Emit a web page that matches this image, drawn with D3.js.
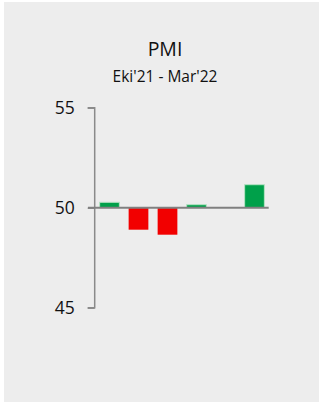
<!DOCTYPE html>
<html>
<head>
<meta charset="utf-8">
<script src="https://cdn.jsdelivr.net/npm/d3@7"></script>
<style>
  body { margin: 0; background: #ffffff; }
  svg { display: block; font-family: "Open Sans", sans-serif; }
</style>
</head>
<body>
<svg width="321" height="405"></svg>
<script>
// PMI, Oct'21 - Mar'22
var months = ["Eki", "Kas", "Ara", "Oca", "Şub", "Mar"];
var values = [50.27, 48.9, 48.65, 50.15, 50.0, 51.15];
var ticks = [45, 50, 55];

var svg = d3.select("svg");

// background panel
svg.append("rect")
  .attr("x", 4).attr("y", 2)
  .attr("width", 315).attr("height", 400)
  .attr("fill", "#ededed");

svg.append("text")
  .attr("x", 165).attr("y", 56)
  .attr("text-anchor", "middle")
  .attr("font-size", 19.5)
  .attr("fill", "#111")
  .text("PMI");

svg.append("text")
  .attr("x", 165).attr("y", 81.5)
  .attr("text-anchor", "middle")
  .attr("font-size", 15.5)
  .attr("fill", "#111")
  .text("Eki'21 - Mar'22");

var x = d3.scaleBand()
  .domain(months)
  .range([95, 269])
  .paddingInner(0.32)
  .paddingOuter(0.16);

var y = d3.scaleLinear()
  .domain([45, 55])
  .range([307.7, 107.7]);

// y axis
var yAxis = svg.append("g")
  .attr("transform", "translate(94.7,0)")
  .call(d3.axisLeft(y).tickValues(ticks).tickSize(7).tickPadding(13));

yAxis.select(".domain")
  .attr("stroke", "#8a8a8a")
  .attr("stroke-width", 1.5)
  .attr("d", "M-7," + y(45) + "H0V" + y(55) + "H-7");
yAxis.selectAll(".tick line").attr("stroke", "#8a8a8a").attr("stroke-width", 1.5);
yAxis.selectAll(".tick text")
  .attr("font-size", 17.5)
  .attr("font-family", "Open Sans, sans-serif")
  .attr("fill", "#111");

// bars
svg.append("g")
  .selectAll("rect")
  .data(values)
  .enter().append("rect")
    .attr("x", function(d, i) { return x(months[i]); })
    .attr("y", function(d) { return Math.min(y(d), y(50)); })
    .attr("width", x.bandwidth())
    .attr("height", function(d) { return Math.abs(y(d) - y(50)); })
    .attr("fill", function(d) { return d >= 50 ? "#00a04a" : "#f20000"; })
    .attr("stroke", function(d) { return d >= 50 ? "#b6e3c4" : "none"; })
    .attr("stroke-width", 1);

// baseline at 50
svg.append("line")
  .attr("x1", 88).attr("x2", 268.7)
  .attr("y1", y(50)).attr("y2", y(50))
  .attr("stroke", "#808080")
  .attr("stroke-width", 2);
</script>
</body>
</html>
